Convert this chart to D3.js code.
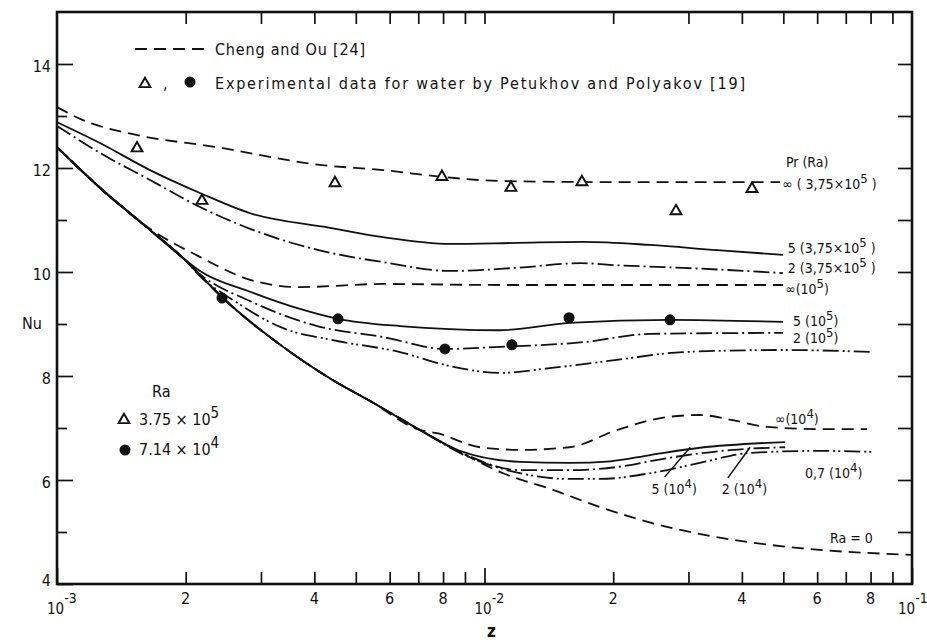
<!DOCTYPE html>
<html>
<head>
<meta charset="utf-8">
<script src="https://cdn.jsdelivr.net/npm/d3@7/dist/d3.min.js"></script>
<style>
  body { margin: 0; background: #fff; }
  svg text { font-family: "DejaVu Sans Condensed", "Liberation Sans Narrow", "DejaVu Sans", sans-serif; fill: #111; }
</style>
</head>
<body>
<svg id="chart" width="927" height="643"></svg>
<script>
// axes
var zDomain = [1e-3, 1e-1];
var nuDomain = [4, 15];
var zDecades = [1e-3, 1e-2, 1e-1];
var zMinor = [2e-3, 3e-3, 4e-3, 5e-3, 6e-3, 7e-3, 8e-3, 9e-3, 2e-2, 3e-2, 4e-2, 5e-2, 6e-2, 7e-2, 8e-2, 9e-2];
var zLabelled = [2e-3, 4e-3, 6e-3, 8e-3, 2e-2, 4e-2, 6e-2, 8e-2];
var decadeExp = ["-3", "-2", "-1"];
var nuLabelled = [4, 6, 8, 10, 12, 14];
var nuMinor = [5, 7, 9, 11, 13];
var nuRight = [5, 6, 7, 8, 9, 10, 11, 12, 13, 14];

// curves, [z, Nu]
var chengOu = [[1.0e-3, 13.17], [1.15e-3, 12.92], [1.505e-3, 12.65], [2.37e-3, 12.40], [4.12e-3, 12.06], [5.79e-3, 11.96],
  [7.95e-3, 11.83], [1.087e-2, 11.75], [1.86e-2, 11.73], [3.19e-2, 11.73], [4.91e-2, 11.73]];
var pr5Ra375 = [[1.0e-3, 12.88], [1.26e-3, 12.48], [1.65e-3, 11.96], [2.16e-3, 11.52], [2.83e-3, 11.13], [4.35e-3, 10.85],
  [5.79e-3, 10.67], [8.30e-3, 10.54], [1.19e-2, 10.56], [1.70e-2, 10.58], [2.44e-2, 10.52], [3.50e-2, 10.42], [4.99e-2, 10.33]];
var pr2Ra375 = [[1.0e-3, 12.81], [1.26e-3, 12.29], [1.65e-3, 11.77], [2.16e-3, 11.25], [2.83e-3, 10.83], [4.35e-3, 10.37],
  [5.79e-3, 10.19], [8.30e-3, 10.02], [1.19e-2, 10.08], [1.68e-2, 10.17], [2.04e-2, 10.13], [2.91e-2, 10.08], [4.99e-2, 9.98]];
var ra0 = [[1.0e-3, 12.40], [1.26e-3, 11.62], [1.65e-3, 10.81], [1.97e-3, 10.27], [2.16e-3, 9.94], [2.43e-3, 9.52],
  [3.38e-3, 8.56], [4.42e-3, 7.92], [5.40e-3, 7.52], [7.07e-3, 6.96], [8.76e-3, 6.54], [1.105e-2, 6.13], [1.446e-2, 5.81],
  [1.86e-2, 5.48], [2.67e-2, 5.10], [3.81e-2, 4.85], [5.47e-2, 4.69], [1.0e-1, 4.56]];
var inf1e5 = [[1.0e-3, 12.40], [1.26e-3, 11.62], [1.65e-3, 10.83], [2.16e-3, 10.29], [2.83e-3, 9.85], [3.70e-3, 9.71],
  [5.79e-3, 9.77], [1.087e-2, 9.75], [2.04e-2, 9.75], [4.99e-2, 9.75]];
var pr5Ra1e5 = ra0.slice(0, 4).concat([[2.16e-3, 10.02], [2.83e-3, 9.62], [3.70e-3, 9.29], [4.54e-3, 9.10], [6.34e-3, 8.96],
  [1.087e-2, 8.88], [1.58e-2, 9.02], [2.72e-2, 9.08], [4.99e-2, 9.04]]);
var pr2Ra1e5 = ra0.slice(0, 4).concat([[2.16e-3, 9.96], [2.83e-3, 9.44], [4.06e-3, 8.96], [5.79e-3, 8.75], [8.08e-3, 8.52],
  [1.087e-2, 8.56], [1.70e-2, 8.65], [2.44e-2, 8.81], [4.99e-2, 8.83]]);
var pr07Ra1e5 = ra0.slice(0, 4).concat([[2.16e-3, 9.92], [2.58e-3, 9.46], [3.38e-3, 8.92], [4.42e-3, 8.69], [6.34e-3, 8.46],
  [8.30e-3, 8.19], [1.087e-2, 8.06], [1.42e-2, 8.15], [2.04e-2, 8.31], [2.91e-2, 8.46], [4.99e-2, 8.50], [8.11e-2, 8.46]]);
var inf1e4 = ra0.slice(0, 10).concat([[7.74e-3, 6.90], [9.76e-3, 6.63], [1.211e-2, 6.58], [1.58e-2, 6.63], [2.04e-2, 6.96],
  [2.67e-2, 7.21], [3.19e-2, 7.25], [3.81e-2, 7.15], [4.58e-2, 7.02], [6.09e-2, 6.98], [7.85e-2, 6.98]]);
var pr5Ra1e4 = ra0.slice(0, 10).concat([[8.76e-3, 6.56], [1.211e-2, 6.35], [1.58e-2, 6.33], [1.97e-2, 6.36], [2.44e-2, 6.48],
  [3.19e-2, 6.62], [5.05e-2, 6.73]]);
var pr2Ra1e4 = ra0.slice(0, 10).concat([[8.76e-3, 6.54], [1.211e-2, 6.19], [1.58e-2, 6.19], [2.04e-2, 6.25], [2.67e-2, 6.42],
  [3.81e-2, 6.58], [5.05e-2, 6.63]]);
var pr07Ra1e4 = ra0.slice(0, 10).concat([[8.76e-3, 6.52], [1.211e-2, 6.13], [1.58e-2, 6.02], [1.86e-2, 6.02], [2.44e-2, 6.13],
  [3.19e-2, 6.33], [4.18e-2, 6.52], [6.0e-2, 6.56], [8.11e-2, 6.54]]);

// experimental points (Petukhov and Polyakov)
var triZ = [1.539e-3, 2.183e-3, 4.469e-3, 7.95e-3, 1.153e-2, 1.690e-2, 2.805e-2, 4.224e-2];
var triNu = [12.38, 11.37, 11.71, 11.83, 11.62, 11.73, 11.17, 11.60];
var dotZ = [2.432e-3, 4.543e-3, 8.08e-3, 1.159e-2, 1.577e-2, 2.716e-2];
var dotNu = [9.50, 9.10, 8.52, 8.60, 9.12, 9.08];

// curve labels, placed in data units
var curveLabels = [
  { z: 5.07e-2, nu: 12.02, parts: [["Pr (Ra)"]] },
  { z: 4.97e-2, nu: 11.60, parts: [["\u221e ( 3,75\u00d710"], ["5", 1], [" )"]] },
  { z: 5.12e-2, nu: 10.37, parts: [["5 (3,75\u00d710"], ["5", 1], [" )"]] },
  { z: 5.12e-2, nu: 9.99, parts: [["2 (3,75\u00d710"], ["5", 1], [" )"]] },
  { z: 5.05e-2, nu: 9.58, parts: [["\u221e(10"], ["5", 1], [")"]] },
  { z: 5.27e-2, nu: 8.96, parts: [["5 (10"], ["5", 1], [")"]] },
  { z: 5.27e-2, nu: 8.63, parts: [["2 (10"], ["5", 1], [")"]] },
  { z: 4.78e-2, nu: 7.08, parts: [["\u221e(10"], ["4", 1], [")"]] },
  { z: 5.62e-2, nu: 6.04, parts: [["0,7 (10"], ["4", 1], [")"]] },
  { z: 2.46e-2, nu: 5.73, parts: [["5 (10"], ["4", 1], [")"]] },
  { z: 3.59e-2, nu: 5.73, parts: [["2 (10"], ["4", 1], [")"]] },
  { z: 6.43e-2, nu: 4.79, parts: [["Ra = 0"]] }
];
var leaders = [[[2.64e-2, 6.06], [3.03e-2, 6.63]], [[3.71e-2, 6.04], [4.18e-2, 6.63]]];

var DASH = "12,7", DASHDOT = "16,4,2,4", DASHDOTDOT = "16,4,2,3,2,4";
var curves = [
  { data: chengOu, dash: DASH },
  { data: pr5Ra375, dash: null },
  { data: pr2Ra375, dash: DASHDOT },
  { data: inf1e5, dash: DASH },
  { data: pr5Ra1e5, dash: null },
  { data: pr2Ra1e5, dash: DASHDOT },
  { data: pr07Ra1e5, dash: DASHDOTDOT },
  { data: ra0, dash: DASH },
  { data: inf1e4, dash: DASH },
  { data: pr5Ra1e4, dash: null },
  { data: pr2Ra1e4, dash: DASHDOT },
  { data: pr07Ra1e4, dash: DASHDOTDOT }
];

var svg = d3.select("#chart");
var x = d3.scaleLog().domain(zDomain).range([57, 912]);
var y = d3.scaleLinear().domain(nuDomain).range([584, 12]);

function addText(sel, parts, supSize, rise) {
  rise = rise || 7;
  parts.forEach(function(p) {
    var t = sel.append("tspan").text(p[0]);
    if (p[1]) t.attr("dy", -rise).attr("font-size", supSize);
    else if (sel.selectAll("tspan").size() > 1) t.attr("dy", rise);
  });
  return sel;
}

function ticks(axis, pos, vals, size) {
  svg.append("g")
    .attr("transform", pos)
    .call(axis.tickValues(vals).tickSizeInner(-size).tickSizeOuter(0).tickFormat(""))
    .call(function(g) {
      g.select(".domain").remove();
      g.selectAll("line").attr("stroke", "#111").attr("stroke-width", 1.7);
    });
}

ticks(d3.axisBottom(x), "translate(0,584)", zDecades, 16);
ticks(d3.axisBottom(x), "translate(0,584)", zMinor, 12);
ticks(d3.axisTop(x), "translate(0,12)", zMinor.concat([1e-2]), 12);
ticks(d3.axisLeft(y), "translate(57,0)", nuLabelled, 16);
ticks(d3.axisLeft(y), "translate(57,0)", nuMinor, 10);
ticks(d3.axisRight(y), "translate(912,0)", nuRight, 14);

svg.append("rect")
  .attr("x", x(zDomain[0])).attr("y", y(nuDomain[1]))
  .attr("width", x(zDomain[1]) - x(zDomain[0]))
  .attr("height", y(nuDomain[0]) - y(nuDomain[1]))
  .attr("fill", "none").attr("stroke", "#111").attr("stroke-width", 2.6);

// tick labels
svg.selectAll(".zlab").data(zLabelled).enter().append("text")
  .attr("x", function(d) { return x(d); }).attr("y", 604)
  .attr("text-anchor", "middle").attr("font-size", 16)
  .text(function(d) { return Math.round(d / Math.pow(10, Math.floor(Math.log10(d) + 1e-9))); });
zDecades.forEach(function(d, i) {
  var dx = i === 2 ? -14 : -10;
  addText(svg.append("text").attr("x", x(d) + dx).attr("y", 614).attr("font-size", 15),
    [["10"], [decadeExp[i], 1]], 14, 11);
});
svg.selectAll(".nulab").data(nuLabelled).enter().append("text")
  .attr("x", 51).attr("y", function(d) { return y(d) + (d === 4 ? 2 : 8); })
  .attr("text-anchor", "end").attr("font-size", 16)
  .text(function(d) { return d; });

svg.append("text").attr("x", 22).attr("y", 329).attr("font-size", 16).text("Nu");
svg.append("text").attr("x", 487).attr("y", 637).attr("font-size", 17).attr("font-weight", "bold").text("z");

// curves
var line = d3.line()
  .x(function(d) { return x(d[0]); })
  .y(function(d) { return y(d[1]); })
  .curve(d3.curveMonotoneX);

svg.append("g").selectAll("path").data(curves).enter().append("path")
  .attr("d", function(c) { return line(c.data); })
  .attr("fill", "none").attr("stroke", "#111").attr("stroke-width", 1.8)
  .attr("stroke-dasharray", function(c) { return c.dash; });

// leaders
svg.append("g").selectAll("path").data(leaders).enter().append("path")
  .attr("d", d3.line().x(function(d) { return x(d[0]); }).y(function(d) { return y(d[1]); }))
  .attr("stroke", "#111").attr("stroke-width", 1.5);

// markers
var tri = d3.symbol().type(d3.symbolTriangle).size(52);
svg.append("g").selectAll("path").data(triZ).enter().append("path")
  .attr("d", tri)
  .attr("transform", function(d, i) { return "translate(" + x(d) + "," + y(triNu[i]) + ")"; })
  .attr("fill", "#fff").attr("stroke", "#111").attr("stroke-width", 1.9);
svg.append("g").selectAll("circle").data(dotZ).enter().append("circle")
  .attr("cx", function(d) { return x(d); })
  .attr("cy", function(d, i) { return y(dotNu[i]); })
  .attr("r", 5.5).attr("fill", "#111");

// curve labels
curveLabels.forEach(function(l) {
  addText(svg.append("text").attr("x", x(l.z)).attr("y", y(l.nu)).attr("font-size", 14), l.parts, 13, 6);
});

// legend, top
svg.append("line").attr("x1", 135).attr("x2", 207).attr("y1", 49).attr("y2", 49)
  .attr("stroke", "#111").attr("stroke-width", 1.8).attr("stroke-dasharray", "12,7");
svg.append("text").attr("x", 215).attr("y", 55).attr("font-size", 16)
  .attr("textLength", 150).attr("lengthAdjust", "spacing").text("Cheng and Ou [24]");
svg.append("path").attr("d", tri).attr("transform", "translate(145,84)")
  .attr("fill", "#fff").attr("stroke", "#111").attr("stroke-width", 1.9);
svg.append("text").attr("x", 163).attr("y", 89).attr("font-size", 16).text(",");
svg.append("circle").attr("cx", 190).attr("cy", 82).attr("r", 5.5).attr("fill", "#111");
svg.append("text").attr("x", 215).attr("y", 89).attr("font-size", 16)
  .attr("textLength", 530).attr("lengthAdjust", "spacing")
  .text("Experimental data for water by Petukhov and Polyakov [19]");

// legend, Ra
svg.append("text").attr("x", 152).attr("y", 397).attr("font-size", 16).text("Ra");
svg.append("path").attr("d", tri).attr("transform", "translate(124,420)")
  .attr("fill", "#fff").attr("stroke", "#111").attr("stroke-width", 1.9);
addText(svg.append("text").attr("x", 139).attr("y", 425).attr("font-size", 16), [["3.75 \u00d7 10"], ["5", 1]], 15);
svg.append("circle").attr("cx", 125).attr("cy", 450).attr("r", 5.5).attr("fill", "#111");
addText(svg.append("text").attr("x", 139).attr("y", 455).attr("font-size", 16), [["7.14 \u00d7 10"], ["4", 1]], 15);
</script>
</body>
</html>
